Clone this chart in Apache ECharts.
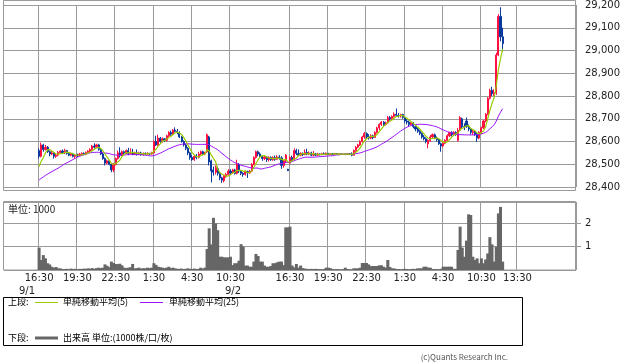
<!DOCTYPE html>
<html><head><meta charset="utf-8">
<script src="https://cdn.jsdelivr.net/npm/echarts@6/dist/echarts.min.js"></script>
<style>html,body{margin:0;padding:0;background:#fff}#c{width:638px;height:362px}</style>
</head><body><div id="c"></div>
<script>
// ---- time axis: trading sessions of 10-minute bars [month/day, start, bar count]
const sessions = [['9/1','12:35',16],['9/1','16:30',79],['9/2','8:45',39],['9/2','16:30',79],['9/3','8:45',39],['9/3','16:30',17]];
const firstDataSlot = 16;
// tick labels on the x axis and the bar index (from 9/1 16:30) where each gridline sits
const tickLabels = ['16:30','19:30','22:30','1:30','4:30','10:30','16:30','19:30','22:30','1:30','4:30','10:30','13:30'];
const tickBars   = [0,18,36,54,72,90,118,136,154,172,190,208,225];
const dateLabels = ['9/1','9/2'];

// ---- prices [open, close, low, high] per 10-minute bar
const night1 = [
[28560,28535,28525,28570],[28535,28585,28530,28595],[28585,28565,28555,28590],[28565,28575,28560,28585],[28575,28555,28550,28580],
[28555,28545,28535,28560],[28545,28550,28540,28558],[28550,28535,28525,28555],[28535,28540,28528,28548],[28540,28552,28535,28558],
[28552,28558,28546,28562],[28558,28550,28545,28565],[28550,28560,28545,28568],[28560,28548,28542,28563],[28548,28540,28535,28552],
[28540,28545,28535,28550],[28545,28535,28530,28550],[28535,28540,28525,28545],[28540,28538,28532,28546],[28538,28545,28535,28550],
[28545,28548,28540,28552],[28548,28544,28540,28552],[28544,28552,28540,28556],[28552,28558,28548,28562],[28558,28565,28552,28570],
[28565,28580,28560,28585],[28580,28575,28568,28592],[28575,28585,28570,28590],[28585,28565,28560,28590],[28565,28545,28540,28570],
[28545,28525,28520,28550],[28525,28505,28495,28530],[28505,28515,28500,28520],[28515,28500,28495,28518],[28500,28475,28465,28505],
[28475,28500,28465,28505],[28500,28525,28495,28530],[28525,28550,28520,28560],[28550,28540,28530,28575],[28540,28555,28535,28560],
[28555,28550,28540,28560],[28550,28560,28545,28565],[28560,28548,28540,28572],[28548,28552,28545,28570],[28552,28545,28540,28568],
[28545,28550,28540,28555],[28550,28545,28538,28565],[28545,28550,28540,28555],[28550,28542,28538,28555],[28542,28548,28538,28552],
[28548,28545,28540,28552],[28545,28548,28542,28552],[28548,28545,28540,28550],[28545,28550,28542,28555],[28550,28600,28548,28605],
[28600,28585,28580,28625],[28585,28615,28580,28630],[28615,28600,28592,28620],[28600,28612,28595,28618],[28612,28605,28598,28615],
[28605,28625,28600,28630],[28625,28640,28620,28645],[28640,28632,28625,28648],[28632,28650,28628,28655],[28650,28645,28640,28662],
[28645,28640,28632,28655],[28640,28620,28615,28645],[28620,28600,28595,28625],[28600,28585,28578,28605],[28585,28570,28562,28590],
[28570,28550,28540,28575],[28550,28530,28520,28555],[28530,28520,28515,28540],[28520,28535,28515,28540],[28535,28530,28522,28545],
[28530,28545,28525,28555],[28545,28555,28540,28560],[28555,28545,28540,28560],[28545,28550,28540,28555]
];
const day2 = [
[28555,28630,28550,28635],[28620,28510,28495,28625],[28515,28470,28420,28520],[28475,28465,28450,28490],[28465,28485,28455,28495],
[28480,28460,28450,28490],[28460,28440,28430,28465],[28440,28430,28418,28445],[28428,28448,28420,28452],[28448,28455,28440,28462],
[28455,28470,28450,28478],[28470,28462,28455,28478],[28462,28475,28458,28480],[28475,28460,28455,28480],[28460,28500,28455,28520],
[28500,28470,28462,28505],[28470,28460,28452,28475],[28460,28455,28445,28465],[28455,28468,28450,28472],[28468,28462,28440,28472],
[28462,28470,28458,28475],[28470,28500,28465,28505],[28500,28530,28495,28535],[28530,28555,28525,28560],[28555,28545,28535,28560],
[28545,28535,28530,28552],[28535,28525,28515,28540],[28525,28532,28518,28538],[28532,28520,28510,28536],[28520,28530,28512,28535],
[28530,28520,28515,28535],[28520,28530,28515,28535],[28530,28522,28515,28538],[28522,28532,28518,28540],[28532,28528,28520,28540],
[28528,28495,28480,28535],[28495,28515,28485,28520],[28515,28540,28505,28545],[28478,28472,28470,28480]
];
const night2 = [
[28505,28530,28500,28535],[28530,28520,28512,28538],[28520,28560,28518,28570],[28560,28548,28540,28568],[28548,28540,28535,28565],
[28540,28548,28535,28552],[28548,28542,28536,28552],[28542,28552,28540,28565],[28552,28545,28540,28568],[28545,28550,28540,28556],
[28550,28540,28535,28555],[28540,28545,28535,28558],[28545,28540,28536,28550],[28540,28545,28536,28550],[28545,28542,28538,28548],
[28542,28546,28540,28550],[28546,28544,28540,28552],[28544,28548,28540,28552],[28548,28543,28540,28550],[28543,28546,28540,28548],
[28546,28544,28541,28549],[28544,28547,28542,28550],[28547,28544,28541,28549],[28544,28546,28542,28548],[28546,28543,28540,28548],
[28543,28545,28541,28547],[28545,28543,28540,28547],[28543,28546,28541,28548],[28546,28544,28540,28548],[28544,28540,28535,28552],
[28540,28560,28538,28565],[28560,28575,28555,28580],[28575,28585,28570,28590],[28585,28600,28580,28605],[28600,28620,28595,28625],
[28620,28635,28612,28642],[28635,28620,28612,28640],[28620,28615,28608,28632],[28615,28625,28610,28632],[28625,28618,28610,28630],
[28618,28640,28615,28645],[28640,28660,28635,28665],[28660,28675,28650,28680],[28675,28685,28668,28690],[28685,28675,28668,28690],
[28675,28682,28670,28688],[28682,28705,28678,28712],[28705,28700,28692,28712],[28700,28710,28695,28715],[28710,28720,28705,28728],
[28720,28715,28708,28745],[28715,28712,28705,28725],[28712,28718,28705,28722],[28718,28705,28700,28722],[28705,28690,28682,28710],
[28690,28685,28675,28698],[28685,28675,28668,28692],[28675,28680,28670,28685],[28680,28665,28658,28685],[28665,28655,28645,28670],
[28655,28645,28638,28660],[28645,28635,28628,28650],[28635,28620,28612,28640],[28620,28612,28605,28628],[28612,28600,28592,28618],
[28590,28605,28570,28610],[28605,28620,28598,28628],[28620,28630,28612,28635],[28630,28615,28610,28635],[28615,28608,28600,28622],
[28608,28590,28585,28612],[28590,28580,28555,28595],[28580,28592,28575,28598],[28592,28605,28588,28610],[28605,28625,28600,28632],
[28625,28640,28620,28642],[28640,28630,28622,28645],[28630,28640,28625,28645],[28640,28632,28625,28645]
];
const day3 = [
[28605,28650,28600,28660],[28650,28705,28645,28712],[28700,28665,28655,28705],[28665,28660,28650,28680],[28690,28665,28660,28705],
[28665,28655,28645,28675],[28655,28640,28630,28660],[28640,28645,28628,28650],[28645,28630,28625,28650],[28630,28615,28598,28640],
[28615,28640,28610,28645],[28640,28660,28632,28665],[28660,28690,28655,28695],[28690,28720,28685,28725],[28720,28790,28715,28795],
[28790,28825,28785,28832],[28825,28810,28800,28840],[28810,28815,28800,28830],[28815,28980,28805,28990],[28980,29150,28975,29160],
[29150,29060,29040,29190],[29060,29030,28995,29100]
];
// closes of the 9/1 day session just before the window (only feed the moving averages' start)
const preCloses = [28395,28405,28410,28400,28415,28420,28405,28410,28420,28415,28405,28410,28420,28425,28410,28405,28415,28425,28445,28455,28470,28480,28475,28490];

// ---- volume (units of 1000) per bar
const volNight1 = [0.96,0.43,0.64,0.5,0.29,0.24,0.14,0.1,0.13,0.07,0.07,0.04,0.04,0.05,0.03,0.06,0.04,0.05,0.03,0.05,
0.04,0.06,0.05,0.07,0.06,0.08,0.05,0.08,0.1,0.08,0.1,0.24,0.18,0.12,0.36,0.3,0.26,0.25,0.27,0.2,
0.1,0.08,0.1,0.12,0.26,0.07,0.08,0.1,0.06,0.08,0.07,0.1,0.08,0.1,0.29,0.22,0.14,0.12,0.1,0.08,
0.1,0.14,0.08,0.1,0.07,0.05,0.05,0.06,0.04,0.05,0.07,0.05,0.04,0.06,0.04,0.05,0.1,0.06,0.1];
const volDay2 = [0.9,1.79,1.1,2.24,2.0,1.71,0.57,0.57,0.54,0.54,0.54,0.57,0.21,0.29,0.29,0.4,1.11,1.0,0.19,0.19,
0.14,0.14,0.36,0.69,0.6,0.36,0.36,0.19,0.14,0.14,0.17,0.29,0.29,0.33,0.36,0.36,0.21,1.83,1.83];
const volNight2 = [1.86,0.19,0.11,0.26,0.1,0.19,0.08,0.06,0.05,0.04,0.05,0.04,0.05,0.04,0.04,0.03,0.04,0.1,0.1,0.08,
0.04,0.03,0.04,0.03,0.03,0.03,0.1,0.04,0.03,0.03,0.07,0.07,0.07,0.1,0.3,0.3,0.3,0.24,0.17,0.17,
0.17,0.17,0.2,0.2,0.14,0.1,0.43,0.13,0.07,0.07,0.04,0.04,0.03,0.04,0.05,0.04,0.03,0.04,0.05,0.04,
0.07,0.07,0.07,0.14,0.14,0.1,0.1,0.04,0.04,0.04,0.03,0.05,0.14,0.14,0.14,0.14,0.14,0.05,0.05];
const volDay3 = [0.86,1.86,0.96,0.57,1.26,2.39,2.36,0.57,0.43,0.5,0.29,0.5,0.29,0.45,0.71,1.41,1.1,0.36,1.0,2.43,2.71,0.36];

// ---- build axis categories
const categories = [];
sessions.forEach(([d, t, n]) => {
  const [mo, dy] = d.split('/').map(Number);
  const [h, m] = t.split(':').map(Number);
  const start = h * 60 + m;
  for (let k = 0; k < n; k++) {
    const tot = start + 10 * k;
    const mm = tot % 1440;
    categories.push(mo + '/' + (dy + Math.floor(tot / 1440)) + ' ' + Math.floor(mm / 60) + ':' + String(mm % 60).padStart(2, '0'));
  }
});
const N = categories.length;
const bars = night1.concat(day2, night2, day3);
const vols = volNight1.concat(volDay2, volNight2, volDay3);
const candleData = bars.map((b, i) => [firstDataSlot + i, b[0], b[1], b[2], b[3]]);
const volData = new Array(N).fill('-');
vols.forEach((v, i) => { volData[firstDataSlot + i] = v; });
const closes = bars.map(b => b[1]);
const hist = preCloses.concat(closes);
function sma(n) {
  const out = new Array(N).fill('-');
  closes.forEach((_, i) => {
    const j = i + preCloses.length;
    let s = 0; for (let k = j - n + 1; k <= j; k++) s += hist[k];
    out[firstDataSlot + i] = +(s / n).toFixed(1);
  });
  return out;
}
const ma5 = sma(5), ma25 = sma(25);
const tickSlotMap = {};
tickBars.forEach((b, k) => { tickSlotMap[firstDataSlot + b] = tickLabels[k]; });
const isTick = (idx) => tickSlotMap[idx] !== undefined;

const GRID = '#9a9a9a';
const FONT = '"DejaVu Sans", sans-serif';
const JFONT = '"Noto Sans CJK JP", sans-serif';
const comma = v => String(v).replace(/\B(?=(\d{3})+(?!\d))/g, ',');
const UP = '#ff1040', DOWN = '#0a3a9e';

const chart = echarts.init(document.getElementById('c'), null, {renderer: 'canvas'});
const txt = (text, x, y, opts) => Object.assign({type: 'text', silent: true, style: Object.assign({text, x, y, fill: '#000', font: '9px ' + JFONT, align: 'left', textAlign: 'left', verticalAlign: 'middle', textVerticalAlign: 'middle'}, opts || {})});
chart.setOption({
  animation: false,
  backgroundColor: '#fff',
  grid: [
    {left: 4, right: 62, top: 4, height: 183},
    {left: 4, right: 62, top: 202, height: 68}
  ],
  xAxis: [0, 1].map(g => ({
    type: 'category', gridIndex: g, data: categories, boundaryGap: true,
    axisLine: {show: false}, axisTick: {show: false},
    axisLabel: {show: g === 1, interval: (idx) => isTick(idx), formatter: (v, idx) => tickSlotMap[idx] || '',
      fontSize: 10, fontFamily: FONT, color: '#222', margin: 3},
    splitLine: {show: true, interval: (idx) => isTick(idx), lineStyle: {color: GRID, width: 1}}
  })),
  yAxis: [
    {type: 'value', gridIndex: 0, position: 'right', min: 28400, max: 29200, interval: 100, scale: true,
     axisLine: {show: false}, axisTick: {show: false},
     axisLabel: {fontSize: 10, fontFamily: FONT, color: '#222', margin: 9, formatter: comma},
     splitLine: {lineStyle: {color: GRID, width: 1}}},
    {type: 'value', gridIndex: 1, position: 'right', min: 0, max: 2.92, interval: 1,
     axisLine: {show: false}, axisTick: {show: true, length: 5, lineStyle: {color: GRID}},
     axisLabel: {fontSize: 10, fontFamily: FONT, color: '#222', margin: 9, showMinLabel: false, showMaxLabel: false},
     splitLine: {lineStyle: {color: GRID, width: 1}}}
  ],
  series: [
    {type: 'candlestick', xAxisIndex: 0, yAxisIndex: 0, data: candleData, encode: {x: 0, y: [1, 2, 3, 4]},
     barWidth: 1.6, itemStyle: {color: UP, color0: DOWN, borderColor: UP, borderColor0: DOWN, borderWidth: 1}},
    {type: 'line', xAxisIndex: 0, yAxisIndex: 0, data: ma25, showSymbol: false, lineStyle: {color: '#9a10ff', width: 1}},
    {type: 'line', xAxisIndex: 0, yAxisIndex: 0, data: ma5, showSymbol: false, lineStyle: {color: '#99cc00', width: 1.2}},
    {type: 'bar', xAxisIndex: 1, yAxisIndex: 1, data: volData, barWidth: 3, itemStyle: {color: '#666'}}
  ],
  graphic: [
    {type: 'rect', silent: true, shape: {x: 3.5, y: 0.5, width: 572, height: 190}, style: {fill: 'none', stroke: GRID, lineWidth: 1}},
    {type: 'rect', silent: true, shape: {x: 3.5, y: 201.5, width: 572, height: 68.5}, style: {fill: 'none', stroke: GRID, lineWidth: 1}},
    txt('単位: 1000', 8, 209, {font: '10px ' + JFONT, fill: '#222'}),
    txt(dateLabels[0], 27, 291, {font: '10px ' + FONT, fill: '#222', align: 'center', textAlign: 'center'}),
    txt(dateLabels[1], 233, 291, {font: '10px ' + FONT, fill: '#222', align: 'center', textAlign: 'center'}),
    {type: 'rect', silent: true, shape: {x: 3.5, y: 297.5, width: 519, height: 48}, style: {fill: 'none', stroke: '#000', lineWidth: 1}},
    txt('上段:', 8, 302),
    {type: 'line', silent: true, shape: {x1: 35, y1: 302.5, x2: 58, y2: 302.5}, style: {stroke: '#99cc00', lineWidth: 1}},
    txt('単純移動平均(5)', 63, 302),
    {type: 'line', silent: true, shape: {x1: 140, y1: 302.5, x2: 163, y2: 302.5}, style: {stroke: '#9a10ff', lineWidth: 1}},
    txt('単純移動平均(25)', 169, 302),
    txt('下段:', 8, 338),
    {type: 'line', silent: true, shape: {x1: 35, y1: 338, x2: 58, y2: 338}, style: {stroke: '#666', lineWidth: 3}},
    txt('出来高 単位:(1000株/口/枚)', 63, 338),
    txt('(c)Quants Research Inc.', 508, 357, {font: '8px ' + JFONT, fill: '#555', align: 'right', textAlign: 'right'})
  ]
});
</script>
</body></html>
